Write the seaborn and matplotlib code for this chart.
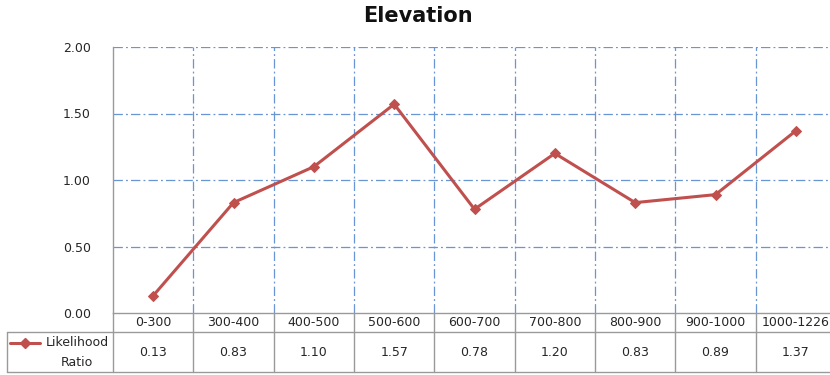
import matplotlib
matplotlib.use("Agg")
import matplotlib.pyplot as plt
import seaborn as sns
import pandas as pd
from matplotlib.lines import Line2D

categories = ["0-300", "300-400", "400-500", "500-600", "600-700",
              "700-800", "800-900", "900-1000", "1000-1226"]
likelihood_ratio = [0.13, 0.83, 1.10, 1.57, 0.78, 1.20, 0.83, 0.89, 1.37]
yticks = [0.0, 0.5, 1.0, 1.5, 2.0]
series_name = "Likelihood\nRatio"
title = "Elevation"

sns.set_theme(style="white")
plt.rcParams["font.family"] = ["DejaVu Sans"]

W, H = 830, 375
fig = plt.figure(figsize=(W / 100, H / 100), dpi=100)
fig.patch.set_facecolor("white")

left_px, right_px, top_px, bottom_px = 113, 836, 47, 313
ax = fig.add_axes([left_px / W, 1 - bottom_px / H,
                   (right_px - left_px) / W, (bottom_px - top_px) / H])

df = pd.DataFrame({"pos": range(len(categories)), "ratio": likelihood_ratio})
red = "#C0504D"
sns.lineplot(data=df, x="pos", y="ratio", ax=ax, color=red, linewidth=2.2,
             marker="D", markersize=5.5, markeredgecolor=red, markerfacecolor=red)

txt_size = 9
txt_color = "#262626"
n = len(categories)
ax.set_xlim(-0.5, n - 0.5)
ax.set_ylim(0, 2.0)
ax.set_yticks(yticks)
ax.set_yticklabels([f"{v:.2f}" for v in yticks], fontsize=txt_size, color=txt_color)
ax.set_xticks([])
ax.set_xlabel("")
ax.set_ylabel("")
ax.tick_params(axis="y", length=0, pad=16)

grid_kw = dict(color="#6A95D3", linewidth=0.9, linestyle=(0, (7.5, 2.5, 1.5, 2.5)))
for v in yticks[1:]:
    ax.axhline(v, **grid_kw, zorder=0)
for b in range(n):
    ax.axvline(b + 0.5, **grid_kw, zorder=0)

for s in ["top", "right"]:
    ax.spines[s].set_visible(False)
ax.spines["left"].set_color("#9A9A9A")
ax.spines["left"].set_linewidth(1.0)
ax.spines["bottom"].set_color("#9A9A9A")
ax.spines["bottom"].set_linewidth(1.0)

fig.text(418 / W, 1 - 16 / H, title, ha="center", va="center",
         fontsize=15, fontweight="bold", color="#111111")

# data table under the plot: header row with categories, value row below
def fy(py):
    return 1 - py / H

def fx_cat(i):
    return (left_px + (i + 0.5) * (right_px - left_px) / n) / W

tbl_color = "#9A9A9A"
row1_y, bottom_y, table_left = 332, 372, 7
fig.add_artist(Line2D([table_left / W, 1.0], [fy(row1_y), fy(row1_y)],
                      color=tbl_color, lw=1.0))
fig.add_artist(Line2D([table_left / W, 1.0], [fy(bottom_y), fy(bottom_y)],
                      color=tbl_color, lw=1.0))
fig.add_artist(Line2D([table_left / W, table_left / W], [fy(row1_y), fy(bottom_y)],
                      color=tbl_color, lw=1.0))
for b in range(n):
    xb = (left_px + b * (right_px - left_px) / n) / W
    fig.add_artist(Line2D([xb, xb], [fy(bottom_px), fy(bottom_y)],
                          color=tbl_color, lw=1.0))

for i, (c, v) in enumerate(zip(categories, likelihood_ratio)):
    fig.text(fx_cat(i), fy(323), c, ha="center", va="center",
             fontsize=txt_size, color=txt_color)
    fig.text(fx_cat(i), fy(352), f"{v:.2f}", ha="center", va="center",
             fontsize=txt_size, color=txt_color)

# legend key inside the table
fig.add_artist(Line2D([10 / W, 40 / W], [fy(343), fy(343)], color=red, lw=2.2))
fig.add_artist(Line2D([25 / W], [fy(343)], color=red, marker="D", markersize=5,
                      markerfacecolor=red, markeredgecolor=red, lw=0))
name_top, name_bottom = series_name.split("\n")
fig.text(77 / W, fy(343), name_top, ha="center", va="center",
         fontsize=txt_size, color=txt_color)
fig.text(77 / W, fy(362), name_bottom, ha="center", va="center",
         fontsize=txt_size, color=txt_color)

fig.savefig("out.png", dpi=100, facecolor="white")
